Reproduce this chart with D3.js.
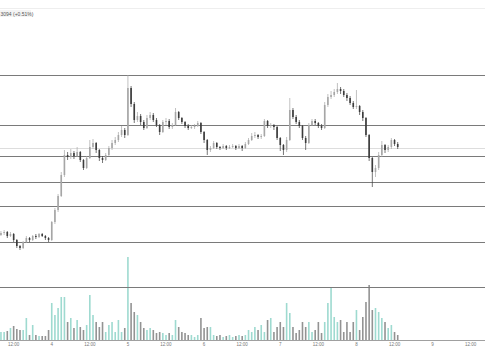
<!DOCTYPE html>
<html>
<head>
<meta charset="utf-8">
<script src="https://cdn.jsdelivr.net/npm/d3@7"></script>
<style>
  html, body { margin: 0; padding: 0; background: #fff; }
  svg { display: block; font-family: "Liberation Sans", "DejaVu Sans", sans-serif; }
</style>
</head>
<body>
<svg id="chart" width="485" height="360"></svg>
<script>
// hourly candles, day 3 08:00 -> day 8 13:00
const firstBar = new Date(2024, 0, 3, 8);
const lastBar = new Date(2024, 0, 8, 13);
const times = d3.timeHour.range(firstBar, d3.timeHour.offset(lastBar, 1));

const opens = [
  94.0, 94.2, 94.3, 93.9, 94.1, 93.5, 92.9, 92.7, 93.3, 93.7, 93.5, 93.9, 93.8, 94.1, 93.9, 93.7,
  93.5, 95.3, 96.5, 97.9, 100.0, 102.0, 101.8, 102.2, 101.9, 102.3, 101.5, 100.7, 101.7, 102.8, 103.2, 102.5,
  101.7, 101.5, 102.0, 102.7, 103.2, 103.5, 104.0, 104.5, 104.0, 108.7, 107.1, 105.5, 105.9, 105.3, 104.7, 105.7,
  106.0, 105.5, 105.0, 104.3, 105.3, 105.4, 104.8, 105.0, 106.3, 105.7, 105.3, 104.9, 104.7, 104.8, 104.9, 105.2,
  104.3, 103.5, 102.5, 102.7, 103.2, 102.8, 102.7, 102.9, 102.7, 102.8, 102.9, 102.7, 102.9, 102.7, 103.1, 103.5,
  103.9, 104.0, 103.8, 103.9, 105.4, 104.9, 105.0, 104.8, 103.7, 103.0, 102.5, 103.5, 106.5, 105.8, 105.3, 104.9,
  103.7, 103.2, 105.0, 105.4, 105.2, 104.9, 104.7, 107.0, 107.8, 108.0, 108.3, 108.6, 108.4, 108.0, 107.7, 107.2,
  106.8, 106.9, 106.3, 105.7, 104.0, 101.7, 100.3, 100.7, 102.0, 103.0, 102.5, 102.8, 103.5, 103.1
];
const closes = [
  94.2, 94.3, 93.9, 94.1, 93.5, 92.9, 92.7, 93.3, 93.7, 93.5, 93.9, 93.8, 94.1, 93.9, 93.7, 93.5,
  95.3, 96.5, 97.9, 100.0, 102.0, 101.8, 102.2, 101.9, 102.3, 101.5, 100.7, 101.7, 102.8, 103.2, 102.5, 101.7,
  101.5, 102.0, 102.7, 103.2, 103.5, 104.0, 104.5, 104.0, 108.7, 107.1, 105.5, 105.9, 105.3, 104.7, 105.7, 106.0,
  105.5, 105.0, 104.3, 105.3, 105.4, 104.8, 105.0, 106.3, 105.7, 105.3, 104.9, 104.7, 104.8, 104.9, 105.2, 104.3,
  103.5, 102.5, 102.7, 103.2, 102.8, 102.7, 102.9, 102.7, 102.8, 102.9, 102.7, 102.9, 102.7, 103.1, 103.5, 103.9,
  104.0, 103.8, 103.9, 105.4, 104.9, 105.0, 104.8, 103.7, 103.0, 102.5, 103.5, 106.5, 105.8, 105.3, 104.9, 103.7,
  103.2, 105.0, 105.4, 105.2, 104.9, 104.7, 107.0, 107.8, 108.0, 108.3, 108.6, 108.4, 108.0, 107.7, 107.2, 106.8,
  106.9, 106.3, 105.7, 104.0, 101.7, 100.3, 100.7, 102.0, 103.0, 102.5, 102.8, 103.5, 103.1, 102.8
];
const highs = [
  94.4, 94.5, 94.4, 94.3, 94.2, 93.6, 93.0, 93.4, 93.9, 93.8, 94.0, 94.1, 94.2, 94.2, 94.0, 93.8,
  95.4, 96.7, 98.1, 100.3, 102.5, 102.3, 102.6, 102.4, 102.8, 102.4, 101.6, 101.9, 103.5, 103.6, 103.3, 102.6,
  101.9, 102.2, 102.9, 103.5, 103.8, 104.3, 104.9, 104.7, 110.0, 108.9, 107.3, 106.3, 106.1, 105.5, 106.0, 106.3,
  106.2, 105.7, 105.1, 105.5, 105.7, 105.6, 105.2, 106.7, 106.4, 105.8, 105.4, 105.1, 105.0, 105.1, 105.4, 105.3,
  104.4, 103.6, 102.9, 103.4, 103.3, 102.9, 103.1, 103.0, 103.0, 103.1, 103.0, 103.1, 103.0, 103.3, 103.7, 104.2,
  104.3, 104.1, 104.1, 105.6, 105.5, 105.2, 105.1, 104.9, 103.8, 103.1, 103.8, 107.7, 106.7, 106.0, 105.5, 105.0,
  103.9, 105.2, 105.6, 105.6, 105.3, 105.1, 107.3, 108.1, 108.4, 108.6, 109.2, 108.8, 108.6, 108.2, 107.9, 107.4,
  108.5, 107.0, 106.5, 105.8, 104.1, 101.8, 101.0, 102.3, 103.4, 103.1, 103.0, 103.7, 103.6, 103.3
];
const lows = [
  93.9, 94.0, 93.7, 93.8, 93.3, 92.7, 92.5, 92.6, 93.2, 93.3, 93.4, 93.6, 93.7, 93.8, 93.5, 93.3,
  93.4, 95.1, 96.3, 97.8, 99.8, 101.5, 101.6, 101.6, 101.8, 101.3, 100.5, 100.6, 101.6, 102.6, 102.2, 101.4,
  101.2, 101.4, 101.9, 102.5, 103.0, 103.3, 103.8, 103.7, 103.9, 106.8, 105.2, 105.3, 105.0, 104.5, 104.6, 105.5,
  105.3, 104.8, 104.0, 104.2, 105.0, 104.6, 104.6, 104.9, 105.5, 105.1, 104.7, 104.5, 104.6, 104.6, 104.8, 104.1,
  103.2, 102.0, 102.3, 102.6, 102.6, 102.5, 102.6, 102.5, 102.6, 102.7, 102.5, 102.6, 102.4, 102.6, 103.0, 103.4,
  103.7, 103.6, 103.6, 103.8, 104.7, 104.7, 104.5, 103.5, 102.4, 102.0, 102.3, 103.4, 105.6, 105.1, 104.7, 103.5,
  102.5, 103.1, 104.9, 105.0, 104.7, 104.5, 104.6, 106.8, 107.6, 107.8, 108.1, 108.1, 107.8, 107.4, 107.0, 106.6,
  106.6, 106.0, 105.4, 103.8, 101.4, 98.8, 99.8, 100.5, 101.8, 102.2, 102.3, 102.6, 102.9, 102.6
];
const volumes = [
  80, 80, 90, 120, 140, 110, 100, 100, 220, 50, 150, 50, 40, 40, 40, 100,
  370, 250, 320, 430, 430, 180, 220, 120, 200, 130, 100, 150, 450, 250, 180, 130,
  180, 80, 150, 180, 80, 200, 80, 120, 830, 370, 280, 250, 180, 120, 100, 120,
  100, 70, 80, 70, 50, 70, 50, 200, 130, 80, 70, 50, 50, 30, 50, 220,
  120, 130, 130, 50, 40, 50, 30, 40, 50, 30, 40, 50, 40, 50, 100, 80,
  130, 100, 150, 80, 200, 220, 80, 130, 180, 130, 370, 270, 130, 70, 100, 180,
  130, 180, 80, 100, 180, 70, 180, 370, 520, 230, 180, 200, 80, 180, 80, 180,
  300, 100, 230, 380, 550, 300, 320, 280, 220, 180, 120, 150, 80, 50
];

// drawn horizontal levels + last price line
const levels = [110.0, 105.0, 101.9, 99.3, 96.9, 93.3, 88.8];
const lastPrice = 102.75;
const headerText = "3094 (+0.51%)";

const bars = times.map((t, i) => ({
  t: t, o: opens[i], h: highs[i], l: lows[i], c: closes[i], v: volumes[i]
}));

const width = 485, height = 360;
const svg = d3.select("#chart");

const x = d3.scaleTime()
  .domain([new Date(2024, 0, 3, 7, 42), new Date(2024, 0, 9, 16, 30)])
  .range([0, width]);
const y = d3.scaleLinear().domain([88, 110]).range([295, 75]);
const yVol = d3.scaleLinear().domain([0, 830]).range([340, 257]);

const upCandle = "#a6a6a6", downCandle = "#3c3c3c";
const upVol = "#9edad0", downVol = "#939393";

// header
svg.append("line")
  .attr("x1", 0).attr("x2", width).attr("y1", 8.5).attr("y2", 8.5)
  .attr("stroke", "#eeeeee");
svg.append("rect")
  .attr("x", 0).attr("y", 10).attr("width", 31).attr("height", 7)
  .attr("fill", "#f4f4f4");
svg.append("text")
  .attr("x", 0.5).attr("y", 15.5)
  .attr("font-size", 5).attr("fill", "#555")
  .text(headerText);

// volume
svg.append("g").selectAll("rect")
  .data(bars)
  .join("rect")
  .attr("x", d => x(d.t) - 0.8)
  .attr("width", 1.6)
  .attr("y", d => yVol(d.v))
  .attr("height", d => yVol(0) - yVol(d.v))
  .attr("fill", d => d.c >= d.o ? upVol : downVol);

// levels
svg.append("g").selectAll("line")
  .data(levels)
  .join("line")
  .attr("x1", 0).attr("x2", width)
  .attr("y1", d => Math.round(y(d)) + 0.5)
  .attr("y2", d => Math.round(y(d)) + 0.5)
  .attr("stroke", "#7a7a7a")
  .attr("stroke-width", 1);

svg.append("line")
  .attr("x1", 0).attr("x2", width)
  .attr("y1", Math.round(y(lastPrice)) + 0.5)
  .attr("y2", Math.round(y(lastPrice)) + 0.5)
  .attr("stroke", "#dddddd");

// candles
const candle = svg.append("g").selectAll("g")
  .data(bars)
  .join("g");

candle.append("line")
  .attr("x1", d => x(d.t))
  .attr("x2", d => x(d.t))
  .attr("y1", d => y(d.h))
  .attr("y2", d => y(d.l))
  .attr("stroke", d => d.c >= d.o ? upCandle : downCandle)
  .attr("stroke-width", 0.7);

candle.append("rect")
  .attr("x", d => x(d.t) - 0.8)
  .attr("width", 1.6)
  .attr("y", d => y(Math.max(d.o, d.c)))
  .attr("height", d => Math.max(1, Math.abs(y(d.o) - y(d.c))))
  .attr("fill", d => d.c >= d.o ? upCandle : downCandle);

// time axis
svg.append("line")
  .attr("x1", 0).attr("x2", width).attr("y1", 340.5).attr("y2", 340.5)
  .attr("stroke", "#a0a0a0");

const fmt = d => d.getHours() === 0 ? d3.timeFormat("%-d")(d) : d3.timeFormat("%H:%M")(d);
svg.append("g").selectAll("text")
  .data(x.ticks(d3.timeHour.every(12)))
  .join("text")
  .attr("x", d => x(d))
  .attr("y", 346)
  .attr("text-anchor", "middle")
  .attr("font-size", 4.5)
  .attr("fill", "#777")
  .text(fmt);
</script>
</body>
</html>
